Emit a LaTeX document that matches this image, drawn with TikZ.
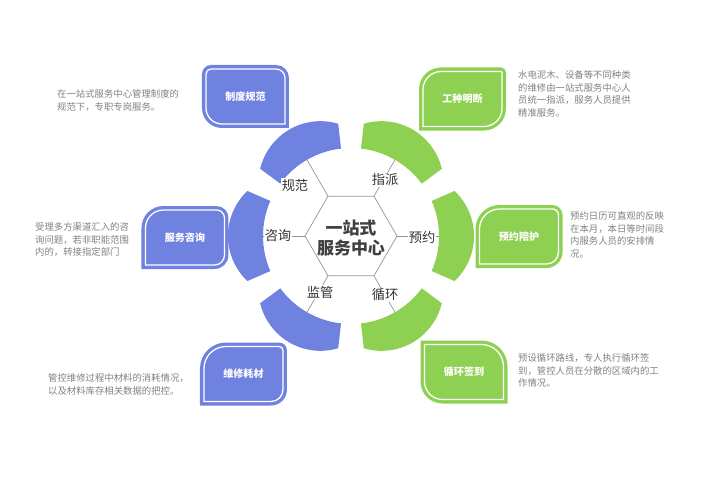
\documentclass[tikz,border=0pt]{standalone}
\usepackage{fontspec}
\setmainfont{Noto Sans CJK SC}
\usepackage{tikz}

\definecolor{segblue}{RGB}{111,130,224}
\definecolor{seggreen}{RGB}{141,208,82}
\definecolor{txtgray}{RGB}{128,128,128}
\definecolor{linegray}{RGB}{150,150,150}
\definecolor{labeltxt}{RGB}{51,51,51}
\definecolor{hubtxt}{RGB}{64,64,64}

% cx cy halfwidth halfheight rTL rTR rBR rBL
\newcommand{\leafpath}[8]{({#1-#3+#5},{#2+#4}) -- ({#1+#3-#6},{#2+#4})
  arc[start angle=90,end angle=0,radius={#6}] -- ({#1+#3},{#2-#4+#7})
  arc[start angle=0,end angle=-90,radius={#7}] -- ({#1-#3+#8},{#2-#4})
  arc[start angle=270,end angle=180,radius={#8}] -- ({#1-#3},{#2+#4-#5})
  arc[start angle=180,end angle=90,radius={#5}] -- cycle}

% name colour cx cy rTL rTR rBR rBL text
\newcommand{\leafbox}[9]{%
  \fill[#2] \leafpath{#3}{#4}{43.5}{31.5}{#5}{#6}{#7}{#8};
  \draw[boxline] \leafpath{#3}{#4}{39.5}{27.5}{max(#5-4,0.1)}{max(#6-4,0.1)}{max(#7-4,0.1)}{max(#8-4,0.1)};
  \node[boxtext] (#1) at (#3,#4) {#9};}

\begin{document}
\begin{tikzpicture}[x=0.03cm, y=0.03cm,
    boxline/.style={draw=white, line width=1.1pt},
    boxtext/.style={text=white, font=\fontsize{8.6}{10}\selectfont\bfseries, inner sep=0pt},
    desc/.style={anchor=north west, align=left, inner sep=0pt, text=txtgray, font=\fontsize{8}{11}\selectfont},
    spoke/.style={draw=linegray, line width=0.6pt},
    tag/.style={fill=white, inner sep=1pt, text=labeltxt, font=\fontsize{11.3}{13}\selectfont},
    hub/.style={align=center, text=hubtxt, font=\fontsize{14.5}{17.5}\selectfont\bfseries}]
    \useasboundingbox (-351,-264) rectangle (356,236);

    \foreach \t/\c in {120/segblue, 180/segblue, 240/segblue, 60/seggreen, 0/seggreen, -60/seggreen}
        \fill[\c] (\t-23.5:88) -- (\t-23.5:113) arc[start angle=\t-46.6, end angle=\t+46.6, radius=62]
            -- (\t+23.5:88) arc[start angle=\t+23.5, end angle=\t-23.5, radius=88] -- cycle;

    \draw[spoke, fill=white] (0:46) -- (60:46) -- (120:46) -- (180:46) -- (240:46) -- (300:46) -- cycle;
    \foreach \a [count=\i] in {0,60,120,180,240,300} {
        \coordinate (v\i) at (\a:46);
        \coordinate (s\i) at (\a:88);
        \draw[spoke] (v\i) -- (s\i);
    }

    \node[hub] (hub) at (0,-2) {一站式\\服务中心};
    \node[tag] (t1) at (-56,51) {规范};
    \node[tag] (t2) at (34,56) {指派};
    \node[tag] (t3) at (-73,0) {咨询};
    \node[tag] (t4) at (71,-1) {预约};
    \node[tag] (t5) at (-31,-56) {监管};
    \node[tag] (t6) at (34,-59) {循环};

    \leafbox{zdgf}{segblue}{-105.5}{139.5}{9}{13}{0.1}{20}{制度规范};
    \leafbox{gzmd}{seggreen}{111.5}{137}{22}{5}{22}{0.1}{工种明断};
    \leafbox{fwzx}{segblue}{-166}{-1.5}{22}{12}{14}{0.1}{服务咨询};
    \leafbox{yyph}{seggreen}{168}{-0.5}{24}{10}{16}{0.1}{预约陪护};
    \leafbox{wxhc}{segblue}{-107.5}{-138}{26}{8}{16}{0.1}{维修耗材};
    \leafbox{xhqd}{seggreen}{113}{-136}{0.1}{26}{0.1}{22}{循环签到};

    \node[desc] (d1) at (-294,147) {在一站式服务中心管理制度的\\规范下，专职专岗服务。};
    \node[desc] (d2) at (167,166) {水电泥木、设备等不同种类\\的维修由一站式服务中心人\\员统一指派，服务人员提供\\精准服务。};
    \node[desc] (d3) at (-316,14) {受理多方渠道汇入的咨\\询问题，若非职能范围\\内的，转接指定部门};
    \node[desc] (d4) at (219,25) {预约日历可直观的反映\\在本月，本日等时间段\\内服务人员的安排情\\况。};
    \node[desc] (d5) at (-303,-137) {管控维修过程中材料的消耗情况，\\以及材料库存相关数据的把控。};
    \node[desc] (d6) at (167,-117) {预设循环路线，专人执行循环签\\到，管控人员在分散的区域内的工\\作情况。};
\end{tikzpicture}
\end{document}
